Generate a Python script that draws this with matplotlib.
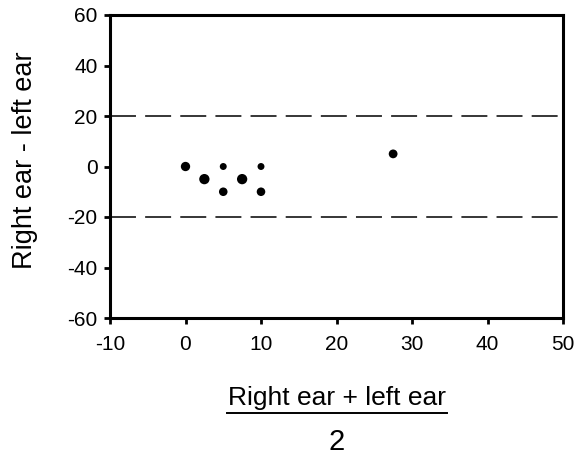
import matplotlib
matplotlib.use("Agg")
import matplotlib.pyplot as plt
from matplotlib.lines import Line2D

plt.rcParams['font.family'] = ['Liberation Sans', 'DejaVu Sans']
plt.rcParams['axes.unicode_minus'] = False

# Data (mean of ears, difference of ears), marker size
mean_ears = [0, 2.5, 5, 5, 7.5, 10, 10, 27.5]
diff_ears = [0, -5, 0, -10, -5, 0, -10, 5]
sizes = [45, 55, 25, 38, 55, 25, 38, 40]
limits = [20, -20]

fig = plt.figure(figsize=(5.8, 4.58), dpi=100)
ax = fig.add_axes([110/580, 1 - 318/458, 453/580, 303/458])

ax.scatter(mean_ears, diff_ears, s=sizes, color='black', zorder=3, linewidths=0)
for y in limits:
    ax.axhline(y, color='black', lw=1.1, dashes=(17, 6))

ax.set_xlim(-10, 50)
ax.set_ylim(-60, 60)
ax.set_xticks(range(-10, 51, 10))
ax.set_yticks(range(-60, 61, 20))
for s in ax.spines.values():
    s.set_linewidth(2.2)
ax.tick_params(direction='out', length=4, width=2, labelsize=15)
ax.tick_params(axis='x', pad=8)
ax.tick_params(axis='y', pad=5)
ax.set_ylabel('Right ear - left ear', fontsize=19.5, va='center')
ax.yaxis.set_label_coords((25 - 110) / 453, (318 - 160) / 303)

# fraction-style x label
cx = (110 + 563) / 2 / 580
fig.text(cx, 1 - 405/458, 'Right ear + left ear', ha='center', va='baseline', fontsize=19)
fig.add_artist(Line2D([227/580, 447/580], [1 - 413/458, 1 - 413/458],
                      color='black', lw=1.4, transform=fig.transFigure))
fig.text(cx, 1 - 450/458, '2', ha='center', va='baseline', fontsize=21)

fig.savefig('out.png', dpi=100)
